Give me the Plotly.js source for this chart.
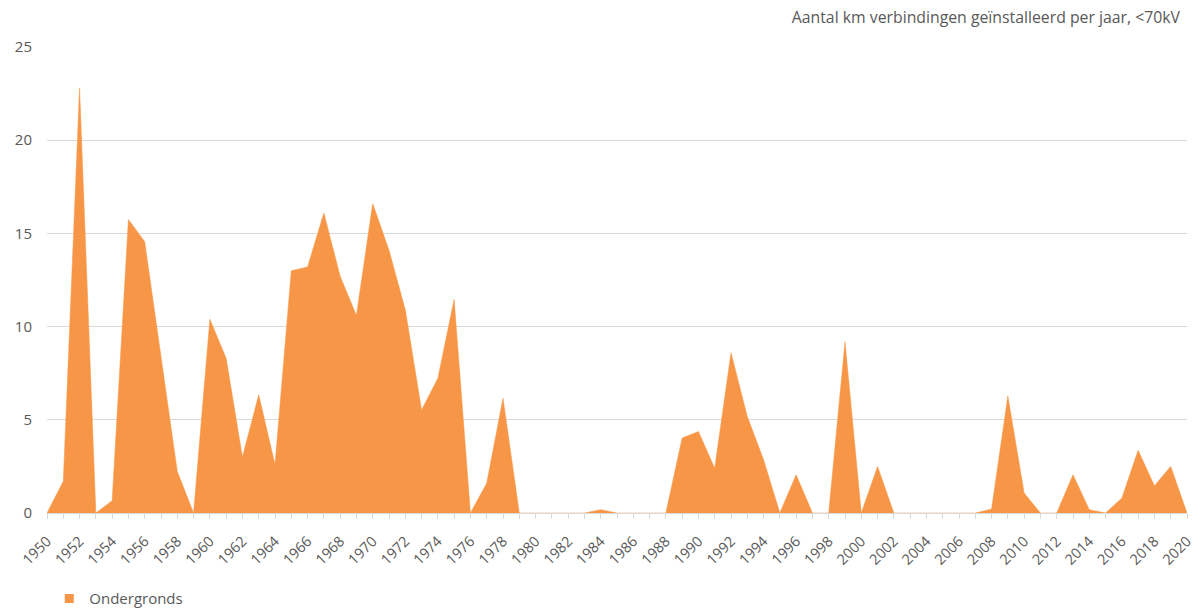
<!DOCTYPE html>
<html>
<head>
<meta charset="utf-8">
<script src="https://cdn.plot.ly/plotly-3.0.1.min.js"></script>
<style>html,body{margin:0;padding:0;background:#fff;}#chart{width:1198px;height:612px;}</style>
</head>
<body>
<div id="chart"></div>
<script>
const years = [];
for (let y = 1950; y <= 2020; y++) years.push(y);
const ondergronds = [
  0, 1.7, 22.8, 0, 0.66, 15.75, 14.55, 8.4, 2.23, 0,
  10.4, 8.3, 3.0, 6.34, 2.6, 13.0, 13.2, 16.1, 12.7, 10.6,
  16.6, 14.1, 10.9, 5.53, 7.23, 11.46, 0, 1.6, 6.16, 0,
  0, 0, 0, 0, 0.18, 0, 0, 0, 0, 4.02,
  4.37, 2.4, 8.6, 5.18, 2.86, 0, 2.05, 0, 0, 9.19,
  0, 2.5, 0, 0, 0, 0, 0, 0, 0.21, 6.28,
  1.07, 0, 0, 2.05, 0.18, 0, 0.8, 3.36, 1.46, 2.5,
  0
];
const seriesName = 'Ondergronds';
const chartTitle = 'Aantal km verbindingen geïnstalleerd per jaar, &lt;70kV';

const font = '"Open Sans", "Noto Sans", sans-serif';
const gray = '#595959';
const orange = '#F79646';

Plotly.newPlot('chart', [{
  x: years,
  y: ondergronds,
  type: 'scatter',
  mode: 'lines',
  name: seriesName,
  fill: 'tozeroy',
  fillcolor: orange,
  line: {color: orange, width: 0.5},
  showlegend: false,
  legendgroup: 'o'
}, {
  x: [null],
  y: [null],
  type: 'scatter',
  mode: 'markers',
  name: seriesName,
  marker: {symbol: 'square', size: 9, color: orange},
  showlegend: true,
  legendgroup: 'o'
}], {
  width: 1198,
  height: 612,
  margin: {l: 47, r: 11, t: 47, b: 99, autoexpand: false},
  paper_bgcolor: '#fff',
  plot_bgcolor: '#fff',
  font: {family: font, color: gray, size: 14},
  title: {
    text: chartTitle,
    x: 0.985, xanchor: 'right',
    y: 0.972, yanchor: 'middle',
    font: {family: font, size: 15.8, color: gray}
  },
  xaxis: {
    range: [1950, 2020],
    automargin: false,
    tickmode: 'linear', tick0: 1950, dtick: 2,
    tickangle: -45,
    ticks: 'outside', ticklen: 5, tickcolor: '#d9d9d9',
    ticklabelstandoff: 8,
    showgrid: false,
    showline: true, linecolor: '#d9d9d9', linewidth: 1,
    zeroline: false,
    tickfont: {family: font, size: 14.5, color: gray},
    minor: {dtick: 1, ticks: 'outside', ticklen: 5, tickcolor: '#d9d9d9', showgrid: false}
  },
  yaxis: {
    range: [0, 25],
    automargin: false,
    tickmode: 'linear', tick0: 0, dtick: 5,
    showgrid: true, gridcolor: '#d9d9d9', gridwidth: 1,
    zeroline: false,
    showline: false,
    ticks: '',
    ticklabelstandoff: 14,
    tickfont: {family: font, size: 15, color: gray}
  },
  showlegend: true,
  legend: {
    orientation: 'h',
    x: 0.002, xanchor: 'left',
    y: -0.184, yanchor: 'middle',
    font: {family: font, size: 15, color: gray},
    itemwidth: 30
  }
}, {displayModeBar: false, staticPlot: true});
</script>
</body>
</html>
